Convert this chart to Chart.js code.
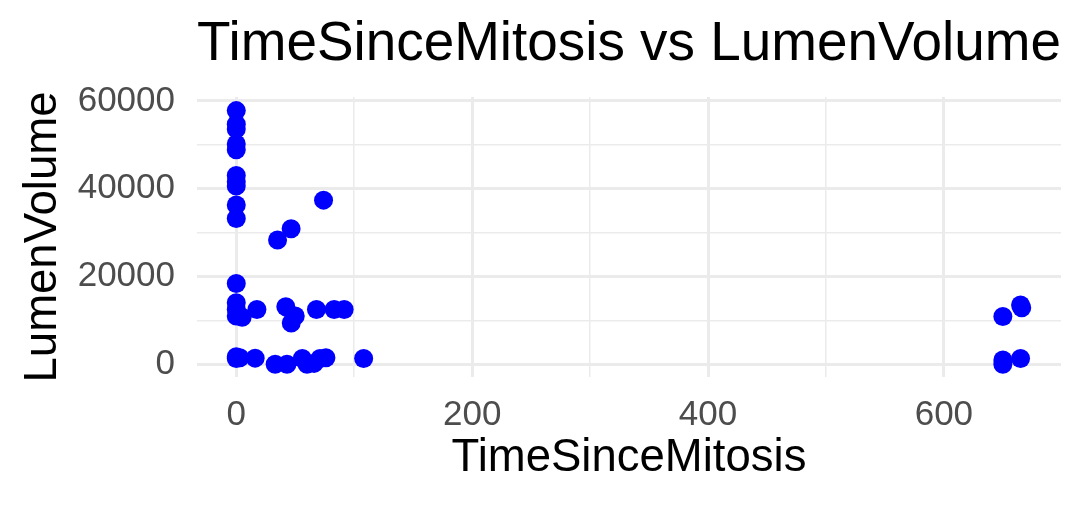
<!DOCTYPE html>
<html>
<head>
<meta charset="utf-8">
<script src="https://cdn.jsdelivr.net/npm/chart.js@4"></script>
<style>
  body { margin: 0; background: #fff; }
</style>
</head>
<body>
<canvas id="myChart" width="1083" height="506"></canvas>
<script>
// values
const timeSinceMitosis = [
  0, 0, 0, 0, 0, 0, 0, 0, 0, 0,
  0, 0, 0, 0, 5, 0, 0, 3,
  17.5, 35, 46.5, 74, 42, 50, 46.6, 68, 83, 91.5,
  16, 33, 43, 56, 60, 66, 71, 76, 108,
  650, 665, 666, 650, 650, 665
];
const lumenVolume = [
  57800, 54700, 53600, 50200, 48900, 43000, 41600, 40600, 36300, 33200,
  18400, 14000, 12500, 11000, 10700, 1700, 1300, 1500,
  12500, 28300, 30900, 37400, 13100, 11000, 9400, 12500, 12500, 12500,
  1400, 0, 0, 1300, 0, 200, 1300, 1500, 1300,
  10900, 13500, 12900, 1000, 0, 1300
];
const xTicks = [0, 200, 400, 600];
const yTicks = [0, 20000, 40000, 60000];

const points = timeSinceMitosis.map((t, i) => ({ x: t, y: lumenVolume[i] }));

const font = 'Liberation Sans';
const gridColor = '#ebebeb';

const ctx = document.getElementById('myChart');

const chart = new Chart(ctx, {
  type: 'scatter',
  data: {
    datasets: [{
      data: points,
      backgroundColor: '#0000ff',
      borderWidth: 0,
      pointRadius: 9.5,
      pointHoverRadius: 9.5
    }]
  },
  options: {
    responsive: false,
    animation: false,
    events: [],
    layout: { padding: { left: 10, right: 22, top: 0, bottom: 10 } },
    plugins: {
      legend: { display: false },
      tooltip: { enabled: false },
      title: {
        display: true,
        text: 'TimeSinceMitosis vs LumenVolume',
        align: 'start',
        fullSize: false,
        color: '#000',
        font: { family: font, size: 55, weight: 'normal' },
        padding: { top: 12, bottom: 19 }
      }
    },
    scales: {
      x: {
        type: 'linear',
        min: -33.3,
        max: 699.3,
        afterBuildTicks: s => { s.ticks = [0, 100, 200, 300, 400, 500, 600].map(v => ({ value: v })); },
        afterFit: s => { s.height = 119; },
        border: { display: false },
        grid: {
          color: gridColor,
          lineWidth: c => xTicks.includes(c.tick.value) ? 3 : 1.5,
          drawTicks: false
        },
        ticks: {
          color: '#4d4d4d',
          font: { family: font, size: 35 },
          padding: 17,
          maxRotation: 0,
          autoSkip: false,
          callback: v => xTicks.includes(v) ? String(v) : ''
        },
        title: {
          display: true,
          text: 'TimeSinceMitosis',
          color: '#000',
          font: { family: font, size: 45.5 },
          padding: { top: 0, bottom: 10 }
        }
      },
      y: {
        min: -2900,
        max: 60900,
        afterBuildTicks: s => { s.ticks = [0, 10000, 20000, 30000, 40000, 50000, 60000].map(v => ({ value: v })); },
        afterFit: s => { s.width = 187; },
        border: { display: false },
        grid: {
          color: gridColor,
          lineWidth: c => yTicks.includes(c.tick.value) ? 3 : 1.5,
          drawTicks: false
        },
        ticks: {
          color: '#4d4d4d',
          font: { family: font, size: 35 },
          padding: 22,
          autoSkip: false,
          callback: v => yTicks.includes(v) ? String(v) : ''
        },
        title: {
          display: true,
          text: 'LumenVolume',
          color: '#000',
          font: { family: font, size: 45.5 },
          padding: { top: 6, bottom: 0 }
        }
      }
    }
  }
});
</script>
</body>
</html>
